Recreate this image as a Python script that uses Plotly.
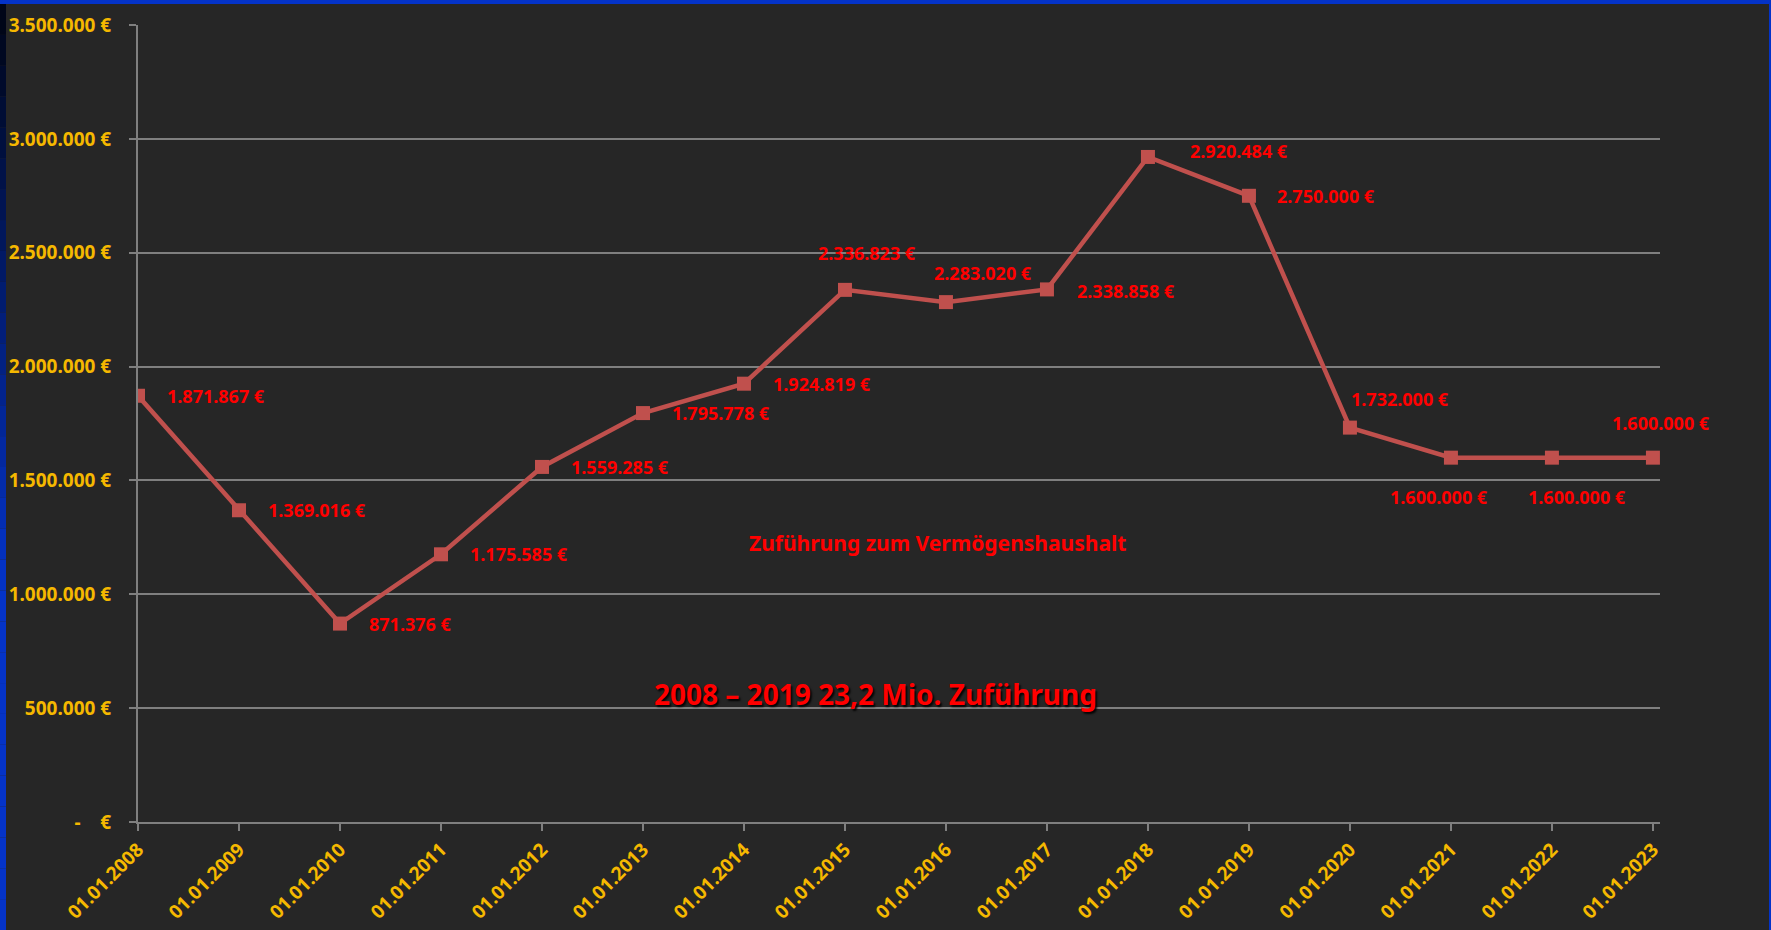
import plotly.graph_objects as go

# ---------------- data ----------------
categories = ["01.01.2008", "01.01.2009", "01.01.2010", "01.01.2011", "01.01.2012",
              "01.01.2013", "01.01.2014", "01.01.2015", "01.01.2016", "01.01.2017",
              "01.01.2018", "01.01.2019", "01.01.2020", "01.01.2021", "01.01.2022",
              "01.01.2023"]
values = [1871867, 1369016, 871376, 1175585, 1559285, 1795778, 1924819, 2336823,
          2283020, 2338858, 2920484, 2750000, 1732000, 1600000, 1600000, 1600000]
y_tickvals = [0, 500000, 1000000, 1500000, 2000000, 2500000, 3000000, 3500000]
series_name = "Zuführung zum Vermögenshaushalt"
note_text = "2008 – 2019 23,2 Mio. Zuführung"

# ---------------- styling ----------------
W, H = 1771, 930
ML, MR, MT, MB = 138, 111, 25, 108
BG = "#262626"
GRID = "#7f7f7f"
GOLD = "#F5B800"
RED = "#FF0000"
LINE = "#C0504D"
FONT = "Noto Sans"

# per-point label placement (anchor, xshift px, yshift px)
label_place = [("left", 27, 0)] * 7 + [
    ("center", 22, 37), ("center", 37, 29), ("left", 28, -2), ("left", 40, 6),
    ("left", 26, 0), ("center", 50, 29), ("center", -12, -39), ("center", 25, -39),
    ("center", 8, 35)]


def eur(v):
    return f"{v:,}".replace(",", ".") + " €"


y_ticktext = [eur(v) if v else "-\u00a0\u00a0\u00a0\u00a0€" for v in y_tickvals]

fig = go.Figure()
fig.add_trace(go.Scatter(
    x=categories, y=values, mode="lines+markers", name=series_name,
    line=dict(color=LINE, width=4.5),
    marker=dict(symbol="square", size=14, color=LINE),
    hoverinfo="x+y", showlegend=False,
))

annotations = []
for c, v, (anc, dx, dy) in zip(categories, values, label_place):
    annotations.append(dict(
        x=c, y=v, xref="x", yref="y", text=eur(v), showarrow=False,
        xanchor=anc, yanchor="middle", xshift=dx, yshift=dy,
        font=dict(family=FONT, size=18, color=RED, weight="bold"),
    ))

pw = W - ML - MR
ph = H - MT - MB


def px_x(p):
    return (p - ML) / pw


def px_y(p):
    return (H - MB - p) / ph


annotations.append(dict(
    x=px_x(937), y=px_y(543), xref="paper", yref="paper", text=series_name,
    showarrow=False, xanchor="center", yanchor="middle",
    font=dict(family=FONT, size=21, color=RED, weight="bold"),
))
annotations.append(dict(
    x=px_x(875), y=px_y(694), xref="paper", yref="paper", text=note_text,
    showarrow=False, xanchor="center", yanchor="middle",
    font=dict(family=FONT, size=28, color=RED, weight="bold",
              shadow="2px 2px 2px rgba(0,0,0,0.9)"),
))

# frame decoration
shapes = [
    dict(type="rect", xref="paper", yref="paper", x0=px_x(0), x1=px_x(W),
         y0=px_y(4), y1=px_y(0), fillcolor="#0433C8", line=dict(width=0), layer="below"),
    dict(type="rect", xref="paper", yref="paper", x0=px_x(W - 2), x1=px_x(W),
         y0=px_y(H), y1=px_y(0), fillcolor="#0433C8", line=dict(width=0), layer="below"),
]
n = 30
c0 = (0, 6, 24)
c1 = (4, 51, 200)
for i in range(n):
    t = i / (n - 1)
    col = tuple(int(c0[k] + (c1[k] - c0[k]) * min(1, t * 1.6)) for k in range(3))
    shapes.append(dict(
        type="rect", xref="paper", yref="paper", x0=px_x(0), x1=px_x(6),
        y0=px_y(4 + (H - 4) * (i + 1) / n), y1=px_y(4 + (H - 4) * i / n),
        fillcolor="rgb(%d,%d,%d)" % col, line=dict(width=0), layer="below"))

fig.update_layout(
    width=W, height=H,
    margin=dict(l=ML, r=MR, t=MT, b=MB, pad=0, autoexpand=False),
    paper_bgcolor=BG, plot_bgcolor=BG,
    annotations=annotations, shapes=shapes,
    xaxis=dict(
        type="category", range=[0, 15.07], showgrid=False, automargin=False,
        showline=True, linecolor=GRID, linewidth=2,
        ticks="outside", ticklen=7, tickcolor=GRID, tickwidth=2,
        tickangle=-45,
        tickfont=dict(family=FONT, size=19, color=GOLD, weight="bold"),
        zeroline=False,
    ),
    yaxis=dict(
        range=[0, 3500000], tickvals=y_tickvals, ticktext=y_ticktext,
        showgrid=True, gridcolor=GRID, gridwidth=1.5, automargin=False,
        showline=True, linecolor=GRID, linewidth=2,
        ticks="outside", ticklen=7, tickcolor=GRID, tickwidth=2,
        tickfont=dict(family=FONT, size=19, color=GOLD, weight="bold"),
        ticklabelstandoff=14, zeroline=False,
    ),
)

fig.write_html("out.html", config={"displayModeBar": False},
               post_script="document.body.style.margin='0';")
